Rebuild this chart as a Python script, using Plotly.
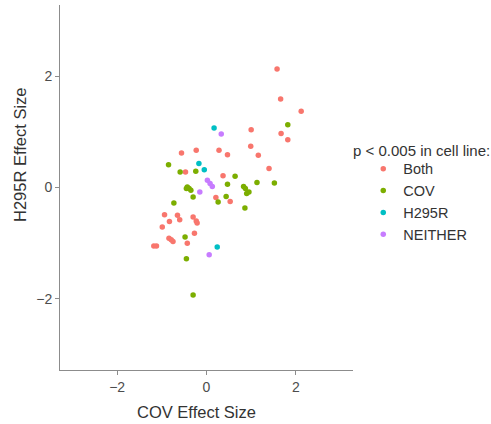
import plotly.graph_objects as go

# Effect sizes per gene, grouped by the cell line(s) where p < 0.005
both_cov = [1.58, 1.66, 2.12, 1.67, 1.82, 1.00, 0.99, 1.16, 0.28, 0.47, 1.40, 0.37,
            0.21, 0.53, -0.56, -0.23, -0.47, -0.94, -0.65, -0.60, -0.30, -0.23,
            -0.21, -0.83, -0.99, -0.27, -0.84, -0.79, -0.75, -0.43, -1.18, -1.12]
both_h295r = [2.13, 1.59, 1.37, 0.97, 0.86, 1.04, 0.74, 0.58, 0.67, 0.59, 0.34, 0.21,
              -0.18, -0.25, 0.62, 0.67, 0.28, -0.49, -0.50, -0.58, -0.53, -0.60,
              -0.64, -0.61, -0.71, -0.82, -0.91, -0.94, -0.97, -1.00, -1.05, -1.05]

cov_cov = [1.82, 0.64, 0.47, 0.83, 0.87, 0.90, 0.95, 1.13, 1.52, 0.26, 0.44, 0.86,
           -0.85, -0.59, -0.24, -0.43, -0.45, -0.39, -0.35, -0.30, -0.73, -0.48,
           -0.45, -0.30]
cov_h295r = [1.13, 0.20, 0.06, 0.02, -0.02, -0.11, -0.08, 0.09, 0.08, -0.26, -0.16,
             -0.37, 0.41, 0.28, 0.29, 0.01, -0.02, -0.02, -0.05, -0.17, -0.28, -0.89,
             -1.28, -1.93]

h295r_cov = [0.17, -0.17, -0.05, 0.24]
h295r_h295r = [1.07, 0.43, 0.32, -1.07]

neither_cov = [0.33, 0.02, 0.08, 0.13, -0.15, 0.06]
neither_h295r = [0.96, 0.13, 0.07, 0.02, -0.08, -1.21]

groups = ["Both", "COV", "H295R", "NEITHER"]
colors = ["#F8766D", "#7CAE00", "#00BFC4", "#C77CFF"]
xs = [both_cov, cov_cov, h295r_cov, neither_cov]
ys = [both_h295r, cov_h295r, h295r_h295r, neither_h295r]

x_ticks = [-2, 0, 2]
y_ticks = [-2, 0, 2]
axis_range = [-3.28, 3.28]

FONT = "Liberation Sans, Arial, sans-serif"

fig = go.Figure()
for name, col, x, y in zip(groups, colors, xs, ys):
    fig.add_trace(go.Scatter(
        x=x, y=y, mode="markers", name=name,
        marker=dict(color=col, size=5.5, line=dict(width=0)),
    ))

axis_style = dict(
    showgrid=False, zeroline=False, showline=True, linecolor="#8c8c8c", linewidth=1,
    ticks="outside", ticklen=4, tickcolor="#8c8c8c", tickwidth=1,
    tickfont=dict(family=FONT, size=14, color="#4d4d4d"),
    range=axis_range,
)

fig.update_layout(
    width=491, height=424,
    margin=dict(l=60, r=138, t=5, b=54),
    paper_bgcolor="white", plot_bgcolor="white",
    xaxis=dict(tickvals=x_ticks, **axis_style),
    yaxis=dict(tickvals=y_ticks, **axis_style),
    showlegend=True,
    legend=dict(
        x=1.035, y=0.595, xanchor="left", yanchor="top",
        font=dict(family=FONT, size=14.5, color="#333333"),
        itemwidth=30, bgcolor="rgba(0,0,0,0)",
    ),
    annotations=[
        dict(text="COV Effect Size", xref="paper", yref="paper",
             x=(196 - 60) / 293, y=-42 / 365, xanchor="center", yanchor="middle",
             showarrow=False, font=dict(family=FONT, size=16.5, color="#333333")),
        dict(text="H295R Effect Size", xref="paper", yref="paper",
             x=-40 / 293, y=(370 - 155) / 365, xanchor="center", yanchor="middle",
             textangle=-90, showarrow=False,
             font=dict(family=FONT, size=16.5, color="#333333")),
        dict(text="p &lt; 0.005 in cell line:", xref="paper", yref="paper",
             x=(351 - 60) / 293, y=(370 - 150) / 365, xanchor="left", yanchor="middle",
             showarrow=False, font=dict(family=FONT, size=15, color="#333333")),
    ],
)

fig.write_html("out.html")
